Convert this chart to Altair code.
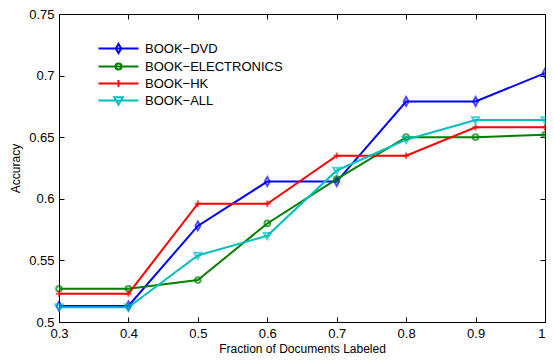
import altair as alt
import pandas as pd

fractions = [0.3, 0.4, 0.5, 0.6, 0.7, 0.8, 0.9, 1.0]
series_names = ["BOOK−DVD", "BOOK−ELECTRONICS", "BOOK−HK", "BOOK−ALL"]
dvd = [0.513, 0.513, 0.578, 0.614, 0.614, 0.679, 0.679, 0.702]
electronics = [0.527, 0.527, 0.534, 0.580, 0.616, 0.650, 0.650, 0.652]
hk = [0.523, 0.523, 0.596, 0.596, 0.635, 0.635, 0.658, 0.658]
allbook = [0.512, 0.512, 0.554, 0.570, 0.623, 0.648, 0.664, 0.664]
colors = ["#0000FF", "#008000", "#FF0000", "#00BFBF"]
x_ticks = [0.3, 0.4, 0.5, 0.6, 0.7, 0.8, 0.9, 1.0]
y_ticks = [0.5, 0.55, 0.6, 0.65, 0.7, 0.75]

rows = []
for name, vals in zip(series_names, [dvd, electronics, hk, allbook]):
    for f, v in zip(fractions, vals):
        rows.append({"series": name, "fraction": f, "accuracy": v})
df = pd.DataFrame(rows)

FONT = "Liberation Sans"
xscale = alt.Scale(domain=[0.3, 1.0], nice=False, zero=False)
yscale = alt.Scale(domain=[0.5, 0.75], nice=False, zero=False)
cscale = alt.Scale(domain=series_names, range=colors)

plot_shapes = [
    "M0,-1.25L0.7,0L0,1.25L-0.7,0Z",
    "M-0.8,0A0.8,0.8 0 1,0 0.8,0A0.8,0.8 0 1,0 -0.8,0Z",
    "M-0.9,0H0.9M0,-0.9V0.9",
    "M-1,-0.75L1,-0.75L0,1Z",
]
legend_shapes = [
    "M-4,0H4M0,-0.9L0.55,0L0,0.9L-0.55,0Z",
    "M-4,0H4M-0.6,0A0.6,0.6 0 1,0 0.6,0A0.6,0.6 0 1,0 -0.6,0Z",
    "M-4,0H4M0,-0.7V0.7",
    "M-4,0H4M-0.85,-0.65L0.85,-0.65L0,0.85Z",
]

def ax(orient, labels=True, title=None, values=None, title_pad=None, label_align=None):
    kw = dict(
        orient=orient, domain=False, grid=False, ticks=True, tickSize=5,
        offset=-5, tickColor="black", tickWidth=1, values=values,
        labels=labels, labelFont=FONT, labelFontSize=13, labelColor="black",
        labelPadding=5, labelFlush=False, titleFont=FONT, titleFontSize=12,
        titleFontWeight="normal", titleColor="black", title=title, format="~g",
    )
    if title_pad is not None:
        kw["titlePadding"] = title_pad
    if label_align is not None:
        kw["labelAlign"] = label_align
    return alt.Axis(**kw)

base = alt.Chart(df)

x_align = {"condition": {"test": "datum.value >= 1", "value": "right"}, "value": "center"}

lines = base.mark_line(strokeWidth=2).encode(
    x=alt.X("fraction:Q", scale=xscale,
            axis=ax("bottom", title="Fraction of Documents Labeled", values=x_ticks,
                    title_pad=3, label_align=x_align)),
    y=alt.Y("accuracy:Q", scale=yscale,
            axis=ax("left", title="Accuracy", values=y_ticks, title_pad=6)),
    color=alt.Color("series:N", scale=cscale, legend=None),
    detail="series:N",
)

points = base.mark_point(filled=False, strokeWidth=2, size=50).encode(
    x=alt.X("fraction:Q", scale=xscale, axis=ax("top", labels=False, values=x_ticks)),
    y=alt.Y("accuracy:Q", scale=yscale, axis=ax("right", labels=False, values=y_ticks)),
    color=alt.Color("series:N", scale=cscale, legend=None),
    shape=alt.Shape("series:N", scale=alt.Scale(domain=series_names, range=plot_shapes), legend=None),
)

legend_layer = base.mark_point(filled=False, strokeWidth=2, opacity=0).encode(
    x=alt.X("fraction:Q", scale=xscale, axis=None),
    y=alt.Y("accuracy:Q", scale=yscale, axis=None),
    stroke=alt.Stroke("series:N", scale=alt.Scale(domain=series_names, range=colors),
                      legend=alt.Legend(title=None)),
    shape=alt.Shape("series:N", scale=alt.Scale(domain=series_names, range=legend_shapes),
                    legend=alt.Legend(title=None)),
)

chart = alt.layer(lines, points, legend_layer).resolve_scale(
    shape="independent", stroke="independent"
).resolve_axis(x="independent", y="independent").properties(
    width=486, height=308,
    autosize=alt.AutoSizeParams(type="none"),
    padding={"left": 51, "top": 6, "right": 1, "bottom": 32},
).configure_view(
    stroke="black", strokeWidth=1
).configure_legend(
    orient="none", legendX=53, legendY=28,
    symbolSize=100, symbolStrokeWidth=2, symbolOpacity=1, symbolFillColor="transparent",
    labelFont=FONT, labelFontSize=13, labelColor="black", labelOffset=20,
    rowPadding=2, padding=0, strokeColor="transparent",
)

chart.save("out.html", embed_options={"renderer": "svg", "actions": False})
